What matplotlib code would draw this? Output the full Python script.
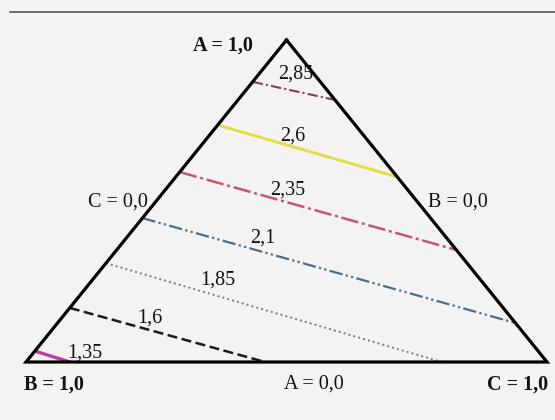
import matplotlib
matplotlib.use("Agg")
import matplotlib.pyplot as plt
import numpy as np

# Contour levels of the ternary response surface (comma decimal labels)
levels = [2.85, 2.6, 2.35, 2.1, 1.85, 1.6, 1.35]
level_labels = ["2,85", "2,6", "2,35", "2,1", "1,85", "1,6", "1,35"]

# Each contour runs between two compositions given as (A, B, C) fractions
start_comp = [
    (0.870, 0.130, 0.000),
    (0.736, 0.264, 0.000),
    (0.590, 0.410, 0.000),
    (0.447, 0.553, 0.000),
    (0.307, 0.693, 0.000),
    (0.168, 0.832, 0.000),
    (0.034, 0.966, 0.000),
]
end_comp = [
    (0.814, 0.000, 0.186),
    (0.575, 0.000, 0.425),
    (0.348, 0.000, 0.652),
    (0.121, 0.000, 0.879),
    (0.000, 0.202, 0.798),
    (0.000, 0.541, 0.459),
    (0.000, 0.916, 0.084),
]

vertex_texts = ["A = 1,0", "B = 1,0", "C = 1,0"]
edge_texts = ["A = 0,0", "C = 0,0", "B = 0,0"]

# Line styles per level
colors = ["#8a3c5c", "#e4dc3c", "#c4566e", "#4d6d8c", "#77778a", "#1a1a1a", "#c03c9c"]
styles = [(0, (5, 1.5, 1, 1.5)), "-", (0, (7, 1.5, 1.2, 1.5)), (0, (6, 1.5, 1, 1.5, 1, 1.5)),
          (0, (1, 1.6)), (0, (4, 1.8)), "-"]
widths = [1.5, 2.0, 1.8, 1.6, 1.4, 1.8, 2.4]


def to_xy(a, b, c):
    """Project a ternary composition onto the plane: B bottom-left, C bottom-right, A top."""
    s = a + b + c
    a, b, c = a / s, b / s, c / s
    return c + 0.5 * a, a


fig = plt.figure(figsize=(5.55, 4.2), dpi=100)
fig.patch.set_facecolor("#f3f3f3")

# thin rule across the top of the panel
fig.add_artist(plt.Line2D([0.018, 1.0], [0.971, 0.971], color="#555555", lw=1.2,
                          transform=fig.transFigure))

ax = fig.add_axes([26 / 555, (420 - 362) / 420, 521 / 555, 322 / 420])
ax.set_xlim(0, 1)
ax.set_ylim(0, 1)
ax.axis("off")

# contour lines
for i in range(len(levels)):
    x0, y0 = to_xy(*start_comp[i])
    x1, y1 = to_xy(*end_comp[i])
    ax.plot([x0, x1], [y0, y1], color=colors[i], ls=styles[i], lw=widths[i],
            solid_capstyle="butt", clip_on=False, zorder=2)

# triangle outline
corners = [to_xy(1, 0, 0), to_xy(0, 1, 0), to_xy(0, 0, 1), to_xy(1, 0, 0)]
ax.plot([p[0] for p in corners], [p[1] for p in corners], color="black", lw=2.3,
        solid_joinstyle="miter", clip_on=False, zorder=3)

font = dict(family="Liberation Serif", fontsize=14.5, color="#111111")

# contour value labels
label_pos = [(0.518, 0.893), (0.512, 0.703), (0.503, 0.534), (0.454, 0.385),
             (0.369, 0.255), (0.238, 0.137), (0.112, 0.028)]
for txt, (lx, ly) in zip(level_labels, label_pos):
    ax.text(lx, ly, txt, ha="center", va="center", zorder=4, **font)

# vertex and edge labels
vertex_pos = [(0.378, 0.984), (0.053, -0.07), (0.943, -0.07)]
for txt, (lx, ly) in zip(vertex_texts, vertex_pos):
    ax.text(lx, ly, txt, ha="center", va="center", fontweight="bold", **font)

edge_pos = [(0.552, -0.07), (0.177, 0.497), (0.828, 0.497)]
for txt, (lx, ly) in zip(edge_texts, edge_pos):
    ax.text(lx, ly, txt, ha="center", va="center", **font)

fig.savefig("out.png", dpi=100, facecolor=fig.get_facecolor())
